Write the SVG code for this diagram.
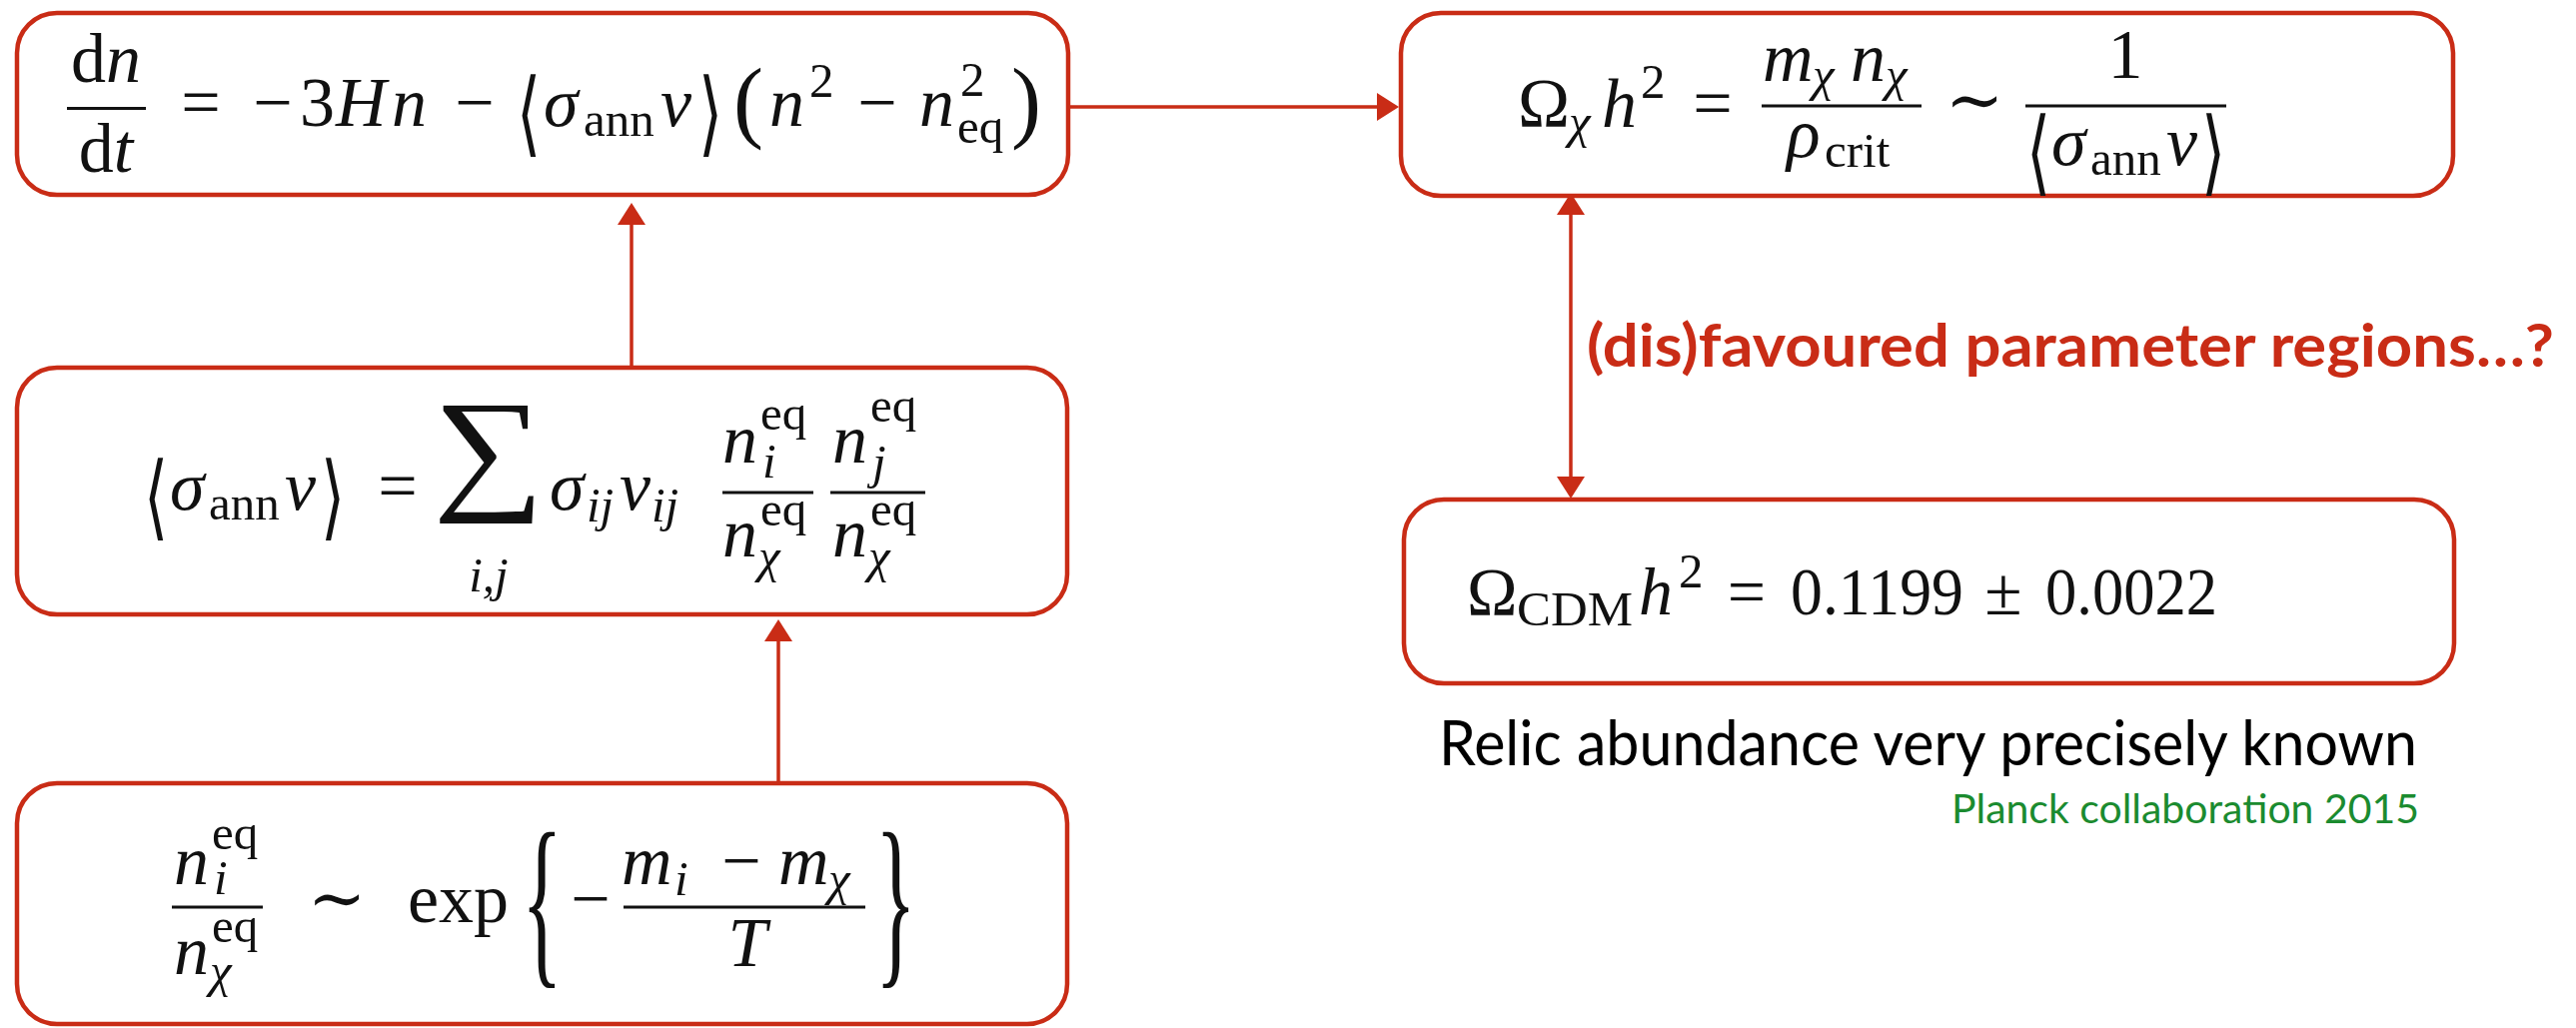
<svg xmlns="http://www.w3.org/2000/svg" width="2578" height="1029" viewBox="0 0 2578 1029">
<defs>
<style>
.box{fill:#fff;stroke:#c92c16;stroke-width:4.5}
.con{stroke:#c92c16;stroke-width:3.5;fill:none}
.m{font-family:"Liberation Serif","DejaVu Serif",serif;font-size:70px;fill:#111}
.it{font-style:italic}
.sb{font-size:49px}
.br{font-family:"DejaVu Serif","DejaVu Sans",serif;font-size:62px;fill:#111}
.bar{stroke:#111;stroke-width:2.8}
.lbl{font-family:Lato,"Open Sans",sans-serif}
</style>
<marker id="ah" viewBox="0 0 22 28" refX="0" refY="14" markerWidth="22" markerHeight="28" markerUnits="userSpaceOnUse" orient="auto-start-reverse">
<path d="M0,0 L22,14 L0,28 z" fill="#c92c16"/>
</marker>
</defs>
<rect width="2578" height="1029" fill="#fff"/>

<g id="connectors">
<line class="con" x1="1071" y1="107" x2="1378" y2="107" marker-end="url(#ah)"/>
<line class="con" x1="632" y1="366" x2="632" y2="225" marker-end="url(#ah)"/>
<line class="con" x1="779" y1="782" x2="779" y2="642" marker-end="url(#ah)"/>
<line class="con" x1="1572" y1="215" x2="1572" y2="477" marker-start="url(#ah)" marker-end="url(#ah)"/>
</g>

<g id="node-boltzmann">
<rect class="box" x="17" y="13" width="1052" height="182" rx="40"/>
<text class="m" x="106" y="82" text-anchor="middle">d<tspan class="it">n</tspan></text>
<line class="bar" x1="67" y1="108.5" x2="146" y2="108.5"/>
<text class="m" x="106" y="172" text-anchor="middle">d<tspan class="it">t</tspan></text>
<text class="m" x="201" y="126" text-anchor="middle">=</text>
<text class="m" x="273" y="126" text-anchor="middle">−</text>
<text class="m" x="300" y="126">3</text>
<text class="m it" x="336" y="126">H</text>
<text class="m it" x="392" y="126">n</text>
<text class="m" x="475" y="126" text-anchor="middle">−</text>
<text class="br" text-anchor="middle" transform="translate(529,145) scale(1,1.5)">⟨</text>
<text class="m it" x="544" y="126">σ</text>
<text class="m sb" x="584" y="136">ann</text>
<text class="m it" x="661" y="126">v</text>
<text class="br" text-anchor="middle" transform="translate(711,145) scale(1,1.5)">⟩</text>
<text class="m" x="734" y="131" style="font-size:90px">(</text>
<text class="m it" x="770" y="126">n</text>
<text class="m sb" x="810" y="97">2</text>
<text class="m" x="878" y="126" text-anchor="middle">−</text>
<text class="m it" x="920" y="126">n</text>
<text class="m sb" x="961" y="96">2</text>
<text class="m sb" x="958" y="143">eq</text>
<text class="m" x="1012" y="131" style="font-size:90px">)</text>
</g>

<g id="node-relic">
<rect class="box" x="1402" y="13" width="1053" height="183" rx="40"/>
<text class="m" x="1519" y="127">Ω</text>
<text class="m sb it" x="1570" y="138">χ</text>
<text class="m it" x="1603" y="127">h</text>
<text class="m sb" x="1642" y="98">2</text>
<text class="m" x="1714" y="127" text-anchor="middle">=</text>
<line class="bar" x1="1763" y1="106" x2="1923" y2="106"/>
<text class="m it" x="1764" y="81">m</text>
<text class="m sb it" x="1814" y="91">χ</text>
<text class="m it" x="1852" y="81">n</text>
<text class="m sb it" x="1887" y="91">χ</text>
<text class="m it" x="1788" y="157">ρ</text>
<text class="m sb" x="1826" y="167">crit</text>
<text class="m" x="1976" y="124" text-anchor="middle">∼</text>
<line class="bar" x1="2027" y1="106" x2="2228" y2="106"/>
<text class="m" x="2127" y="78" text-anchor="middle">1</text>
<text class="br" text-anchor="middle" transform="translate(2040,184) scale(1,1.5)">⟨</text>
<text class="m it" x="2053" y="165">σ</text>
<text class="m sb" x="2092" y="175">ann</text>
<text class="m it" x="2168" y="165">v</text>
<text class="br" text-anchor="middle" transform="translate(2215,184) scale(1,1.5)">⟩</text>
</g>

<g id="node-sigmav">
<rect class="box" x="17" y="368" width="1051" height="247" rx="40"/>
<text class="br" text-anchor="middle" transform="translate(156,529) scale(1,1.5)">⟨</text>
<text class="m it" x="170" y="510">σ</text>
<text class="m sb" x="209" y="520">ann</text>
<text class="m it" x="285" y="510">v</text>
<text class="br" text-anchor="middle" transform="translate(333,529) scale(1,1.5)">⟩</text>
<text class="m" x="398" y="510" text-anchor="middle">=</text>
<text class="m" text-anchor="middle" transform="translate(489,495) scale(1.15,1)" style="font-size:136px">∑</text>
<text class="m sb it" x="489" y="592" text-anchor="middle">i,j</text>
<text class="m it" x="550" y="510">σ</text>
<text class="m sb it" x="587" y="522">ij</text>
<text class="m it" x="620" y="510">v</text>
<text class="m sb it" x="652" y="522">ij</text>
<line class="bar" x1="723" y1="493" x2="814" y2="493"/>
<text class="m it" x="723" y="463">n</text>
<text class="m sb" x="761" y="430">eq</text>
<text class="m sb it" x="763" y="478">i</text>
<text class="m it" x="723" y="557">n</text>
<text class="m sb" x="761" y="526">eq</text>
<text class="m sb it" x="759" y="573">χ</text>
<line class="bar" x1="831" y1="493" x2="926" y2="493"/>
<text class="m it" x="833" y="463">n</text>
<text class="m sb" x="871" y="422">eq</text>
<text class="m sb it" x="873" y="479">j</text>
<text class="m it" x="833" y="557">n</text>
<text class="m sb" x="871" y="526">eq</text>
<text class="m sb it" x="869" y="573">χ</text>
</g>

<g id="node-boltzmann-factor">
<rect class="box" x="17" y="784" width="1051" height="241" rx="40"/>
<line class="bar" x1="172" y1="908" x2="263" y2="908"/>
<text class="m it" x="174" y="885">n</text>
<text class="m sb" x="212" y="850">eq</text>
<text class="m sb it" x="214" y="895">i</text>
<text class="m it" x="174" y="975">n</text>
<text class="m sb" x="212" y="943">eq</text>
<text class="m sb it" x="210" y="988">χ</text>
<text class="m" x="337" y="923" text-anchor="middle">∼</text>
<text class="m" x="408" y="923">exp</text>
<text class="m" transform="translate(522,964) scale(0.85,1.89)" style="font-size:100px">{</text>
<text class="m" x="591" y="923" text-anchor="middle">−</text>
<line class="bar" x1="624" y1="908" x2="866" y2="908"/>
<text class="m it" x="622" y="885">m</text>
<text class="m sb it" x="675" y="896">i</text>
<text class="m" x="742" y="885" text-anchor="middle">−</text>
<text class="m it" x="779" y="885">m</text>
<text class="m sb it" x="829" y="896">χ</text>
<text class="m it" x="748" y="967" text-anchor="middle">T</text>
<text class="m" transform="translate(876,964) scale(0.85,1.89)" style="font-size:100px">}</text>
</g>

<g id="node-planck">
<rect class="box" x="1405" y="500" width="1051" height="184" rx="40"/>
<text class="m" x="1468" y="615" style="font-size:68px">Ω</text>
<text class="m sb" x="1518" y="626" textLength="116" lengthAdjust="spacingAndGlyphs">CDM</text>
<text class="m it" x="1640" y="615" style="font-size:68px">h</text>
<text class="m sb" x="1680" y="588">2</text>
<text class="m" x="1748" y="615" text-anchor="middle" style="font-size:68px">=</text>
<text class="m" x="1792" y="615" textLength="173" lengthAdjust="spacingAndGlyphs" style="font-size:68px">0.1199</text>
<text class="m" x="2005" y="615" text-anchor="middle" style="font-size:68px">±</text>
<text class="m" x="2047" y="615" textLength="172" lengthAdjust="spacingAndGlyphs" style="font-size:68px">0.0022</text>
</g>

<g id="labels">
<text class="lbl" x="1588" y="367" textLength="968" lengthAdjust="spacingAndGlyphs" style="font-size:60px;font-weight:700;fill:#c92c16">(dis)favoured parameter regions…?</text>
<text class="lbl" x="1440" y="766" textLength="979" lengthAdjust="spacingAndGlyphs" style="font-size:62px;fill:#000">Relic abundance very precisely known</text>
<text class="lbl" x="1953" y="824" textLength="468" lengthAdjust="spacingAndGlyphs" style="font-size:40px;fill:#1b8b2f">Planck collaboration 2015</text>
</g>
</svg>
